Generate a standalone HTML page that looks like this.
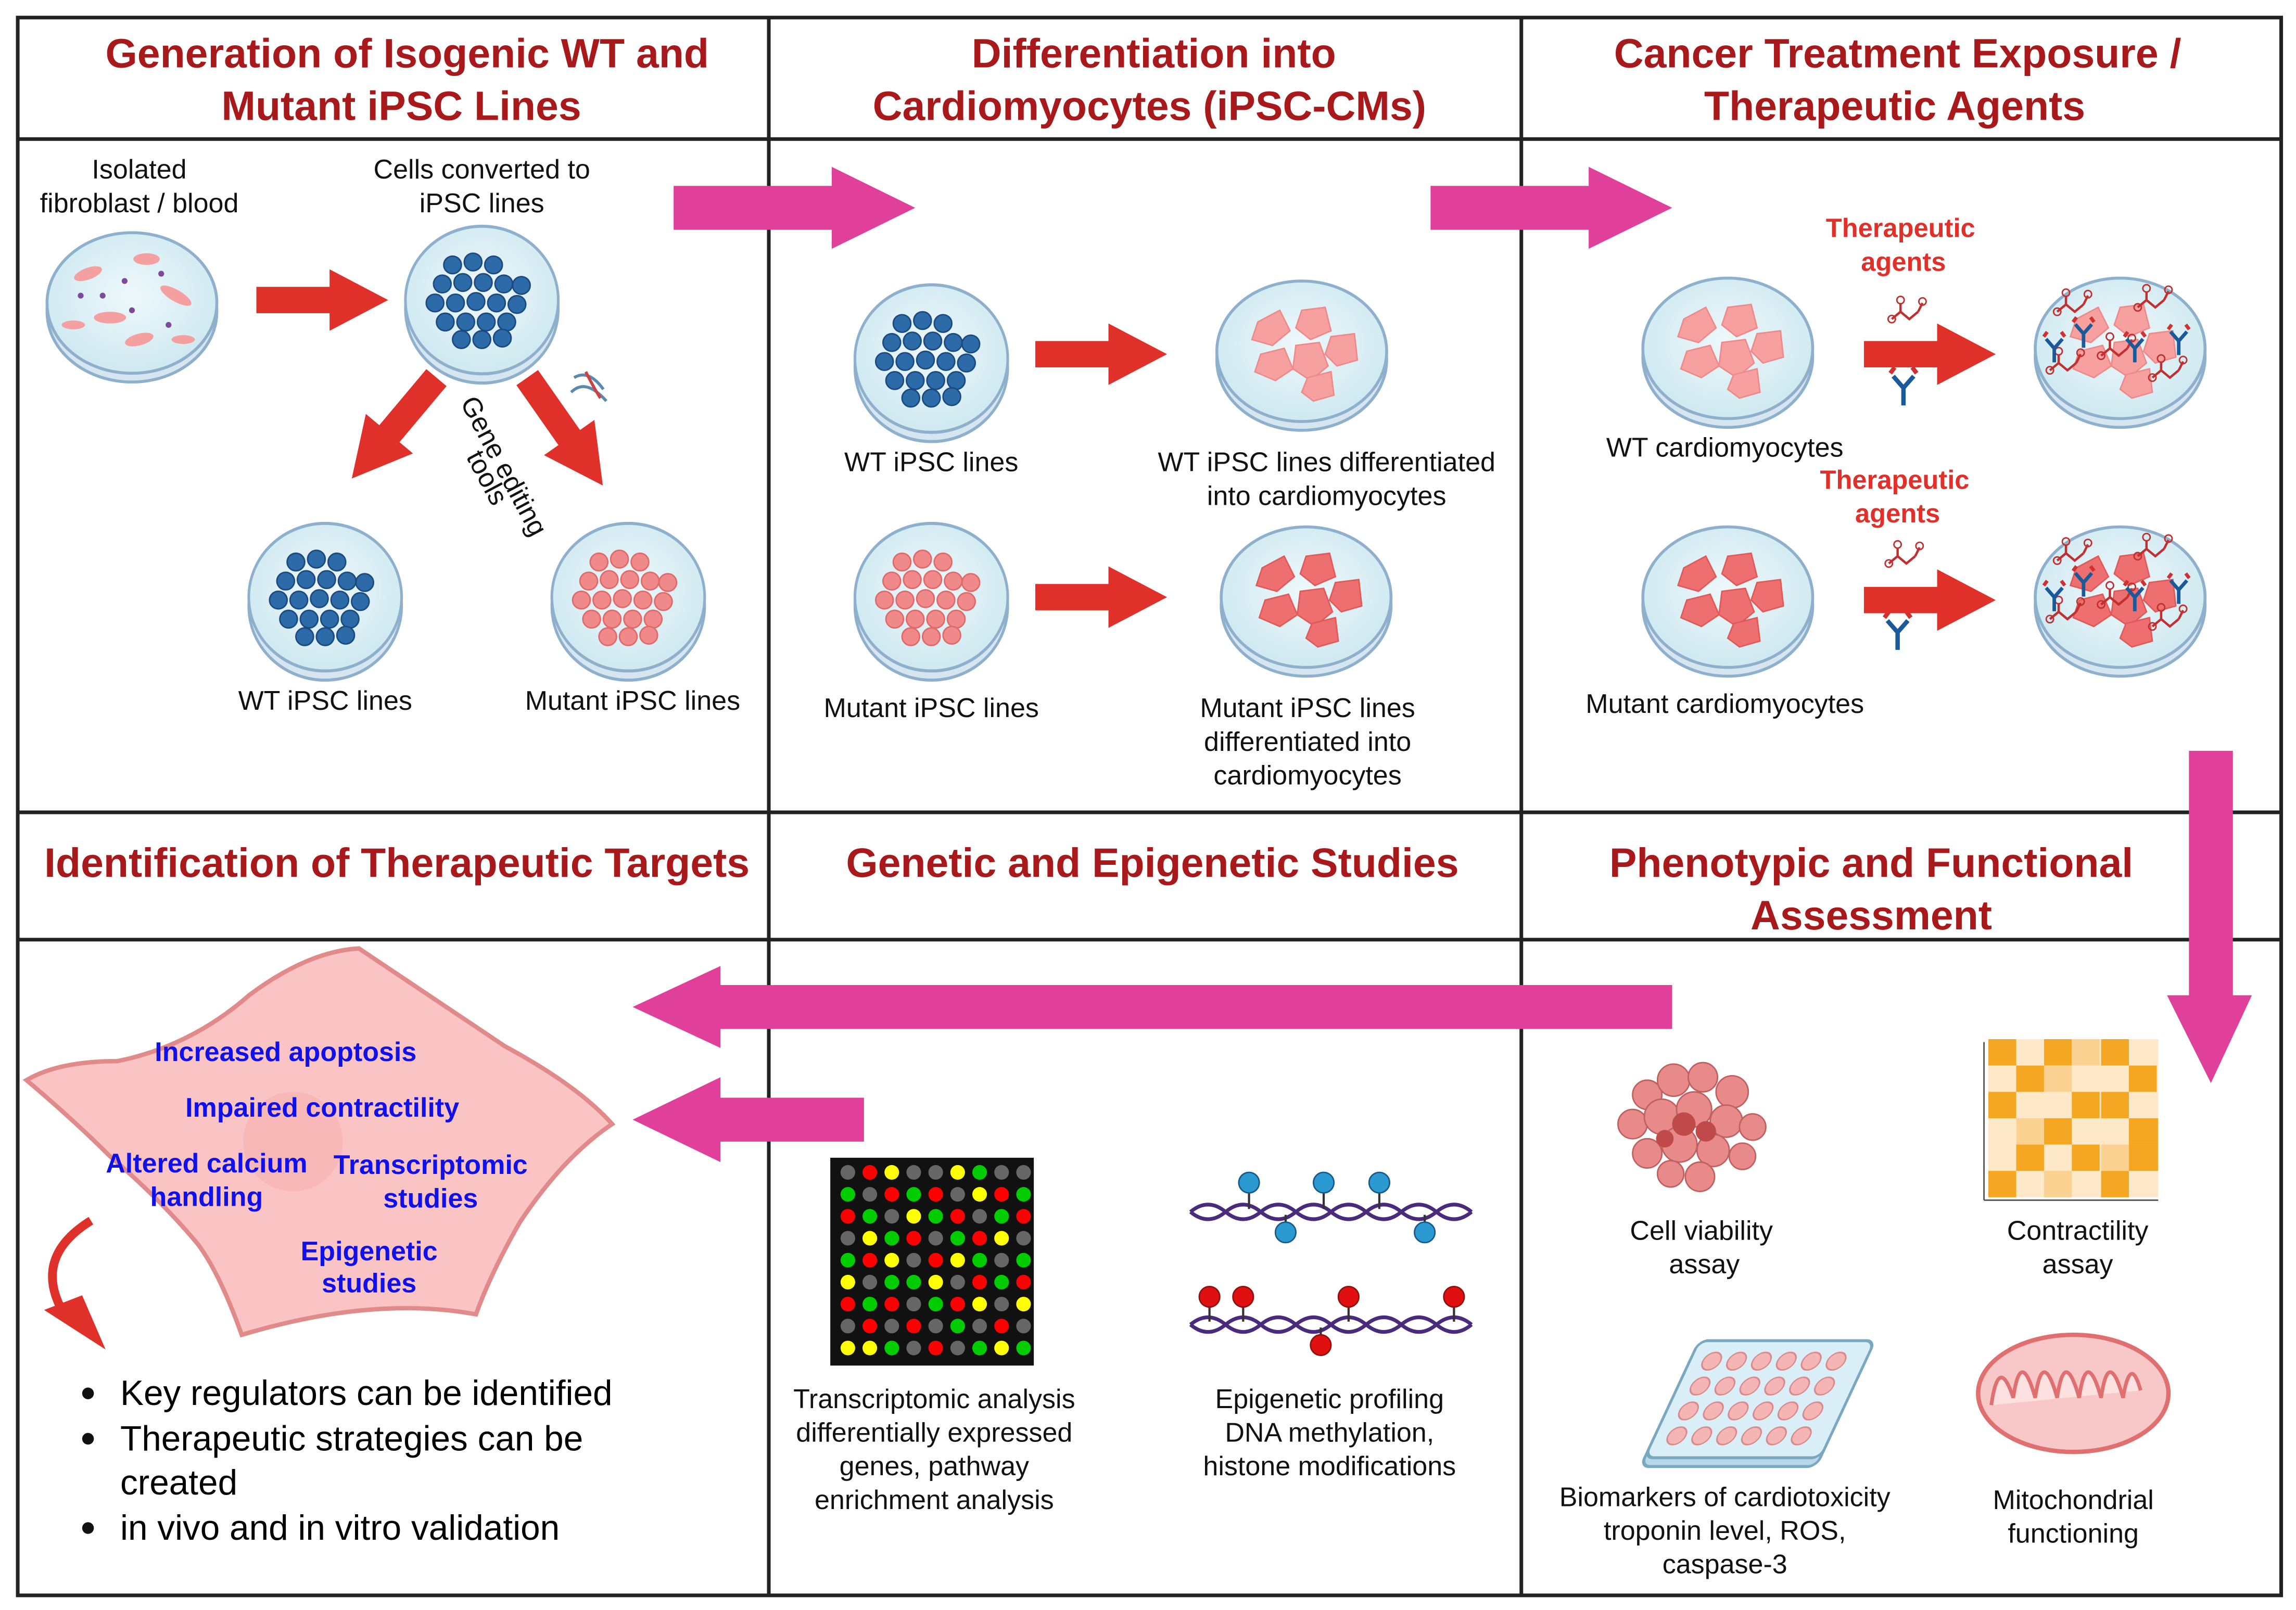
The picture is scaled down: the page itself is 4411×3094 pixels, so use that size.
<!DOCTYPE html>
<html><head><meta charset="utf-8"><style>
html,body{margin:0;padding:0;background:#fff}
svg{display:block}
text{font-family:"Liberation Sans",sans-serif}
.h{font-weight:bold;fill:#a8191c;font-size:28px;text-anchor:middle}
.t{font-size:18.5px;fill:#111;text-anchor:middle}
.b{font-weight:bold;fill:#1010e8;font-size:18.5px;text-anchor:middle}
.r{font-weight:bold;fill:#e0302a;font-size:18px;text-anchor:middle}
</style></head><body>
<svg width="4411" height="3094" viewBox="0 0 1568 1100" xmlns="http://www.w3.org/2000/svg">
<defs>
<radialGradient id="dish" cx="50%" cy="45%" r="55%"><stop offset="0" stop-color="#eef8fb"/><stop offset="1" stop-color="#cfe9f1"/></radialGradient>
<g id="pd"><ellipse cx="0" cy="6" rx="58" ry="48" fill="#d6e6f0" stroke="#8fb0cc" stroke-width="2"/><ellipse cx="0" cy="0" rx="58" ry="48" fill="url(#dish)" stroke="#8fb0cc" stroke-width="2"/></g>
<g id="bc"><g fill="#2d6aa8" stroke="#1b4a80" stroke-width="1">
<circle cx="-20" cy="-24" r="6"/><circle cx="-6" cy="-26" r="6"/><circle cx="8" cy="-24" r="6"/>
<circle cx="-27" cy="-11" r="6"/><circle cx="-13" cy="-12" r="6"/><circle cx="1" cy="-12" r="6"/><circle cx="15" cy="-11" r="6"/><circle cx="27" cy="-10" r="6"/>
<circle cx="-32" cy="2" r="6"/><circle cx="-18" cy="2" r="6"/><circle cx="-4" cy="1" r="6"/><circle cx="10" cy="2" r="6"/><circle cx="24" cy="3" r="6"/>
<circle cx="-25" cy="15" r="6"/><circle cx="-11" cy="15" r="6"/><circle cx="3" cy="15" r="6"/><circle cx="17" cy="15" r="6"/>
<circle cx="-14" cy="27" r="6"/><circle cx="0" cy="27" r="6"/><circle cx="14" cy="26" r="6"/></g></g>
<g id="rc"><g fill="#f08a8a" stroke="#e06a6a" stroke-width="1">
<circle cx="-20" cy="-24" r="6"/><circle cx="-6" cy="-26" r="6"/><circle cx="8" cy="-24" r="6"/>
<circle cx="-27" cy="-11" r="6"/><circle cx="-13" cy="-12" r="6"/><circle cx="1" cy="-12" r="6"/><circle cx="15" cy="-11" r="6"/><circle cx="27" cy="-10" r="6"/>
<circle cx="-32" cy="2" r="6"/><circle cx="-18" cy="2" r="6"/><circle cx="-4" cy="1" r="6"/><circle cx="10" cy="2" r="6"/><circle cx="24" cy="3" r="6"/>
<circle cx="-25" cy="15" r="6"/><circle cx="-11" cy="15" r="6"/><circle cx="3" cy="15" r="6"/><circle cx="17" cy="15" r="6"/>
<circle cx="-14" cy="27" r="6"/><circle cx="0" cy="27" r="6"/><circle cx="14" cy="26" r="6"/></g></g>
<g id="cm"><g fill="#f7a0a0" stroke="#ef8a8a" stroke-width="1">
<polygon points="-30,-20 -15,-28 -8,-14 -20,-4 -34,-8"/><polygon points="0,-28 16,-30 20,-14 6,-8 -4,-16"/>
<polygon points="20,-10 36,-12 38,6 24,10 16,2"/><polygon points="-28,2 -12,-2 -6,12 -18,20 -32,14"/>
<polygon points="-4,-4 12,-6 18,10 6,20 -6,12"/><polygon points="4,18 20,14 22,30 8,34 0,28"/></g></g>
<g id="cmd"><g fill="#ee6f6f" stroke="#e05a5a" stroke-width="1">
<polygon points="-30,-20 -15,-28 -8,-14 -20,-4 -34,-8"/><polygon points="0,-28 16,-30 20,-14 6,-8 -4,-16"/>
<polygon points="20,-10 36,-12 38,6 24,10 16,2"/><polygon points="-28,2 -12,-2 -6,12 -18,20 -32,14"/>
<polygon points="-4,-4 12,-6 18,10 6,20 -6,12"/><polygon points="4,18 20,14 22,30 8,34 0,28"/></g></g>
<g id="ab"><path d="M0,0 L0,12 M0,0 L-7,-8 M0,0 L7,-8" stroke="#1a5a9a" stroke-width="3" fill="none"/><path d="M-9,-10 l3,-4 M9,-10 l-3,-4" stroke="#d03030" stroke-width="3"/></g>
<g id="mol"><path d="M-8,0 l6,-5 l6,5 l6,-5 M-2,-5 l0,-6 M10,-5 l3,-6" stroke="#c03030" stroke-width="1.6" fill="none"/><circle cx="-8" cy="0" r="2.5" fill="none" stroke="#c03030"/><circle cx="13" cy="-12" r="2.5" fill="none" stroke="#c03030"/><circle cx="-2" cy="-13" r="2.5" fill="none" stroke="#c03030"/></g>
<g id="red"><polygon points="0,-9 50,-9 50,-21 90,0 50,21 50,9 0,9" fill="#e0302a"/></g>
</defs>

<rect x="12" y="12" width="1546" height="1078" fill="#fff" stroke="#222" stroke-width="2.5"/>
<line x1="525" y1="12" x2="525" y2="1090" stroke="#222" stroke-width="2.5"/>
<line x1="1039" y1="12" x2="1039" y2="1090" stroke="#222" stroke-width="2.5"/>
<line x1="12" y1="95" x2="1558" y2="95" stroke="#222" stroke-width="2.5"/>
<line x1="12" y1="555" x2="1558" y2="555" stroke="#222" stroke-width="2.5"/>
<line x1="12" y1="642" x2="1558" y2="642" stroke="#222" stroke-width="2.5"/>

<text class="h" x="278" y="46">Generation of Isogenic WT and</text>
<text class="h" x="274" y="82">Mutant iPSC Lines</text>
<text class="h" x="788" y="46">Differentiation into</text>
<text class="h" x="785" y="82">Cardiomyocytes (iPSC-CMs)</text>
<text class="h" x="1296" y="46">Cancer Treatment Exposure /</text>
<text class="h" x="1294" y="82">Therapeutic Agents</text>
<text class="h" x="271" y="599">Identification of Therapeutic Targets</text>
<text class="h" x="787" y="599">Genetic and Epigenetic Studies</text>
<text class="h" x="1278" y="599">Phenotypic and Functional</text>
<text class="h" x="1278" y="635">Assessment</text>

<g fill="#e0409a">
<polygon points="460,127 568,127 568,114 625,142 568,170 568,157 460,157"/>
<polygon points="977,127 1085,127 1085,114 1142,142 1085,170 1085,157 977,157"/>
<polygon points="1495,513 1525,513 1525,680 1538,680 1510,740 1480,680 1495,680"/>
<polygon points="1142,673 492,673 492,660 432,688 492,716 492,703 1142,703"/>
<polygon points="590,750 492,750 492,736 432,765 492,794 492,780 590,780"/>
</g>

<text class="t" x="95" y="122">Isolated</text>
<text class="t" x="95" y="145">fibroblast / blood</text>
<text class="t" x="329" y="122">Cells converted to</text>
<text class="t" x="329" y="145">iPSC lines</text>
<g transform="translate(90,207)"><use href="#pd"/>
<g fill="#f5a0a0"><ellipse cx="-30" cy="-20" rx="10" ry="4" transform="rotate(-20 -30 -20)"/><ellipse cx="10" cy="-30" rx="9" ry="4"/><ellipse cx="30" cy="-5" rx="12" ry="4" transform="rotate(30 30 -5)"/><ellipse cx="-15" cy="10" rx="11" ry="4"/><ellipse cx="5" cy="25" rx="10" ry="4" transform="rotate(-15 5 25)"/><ellipse cx="-40" cy="15" rx="8" ry="3"/><ellipse cx="35" cy="25" rx="8" ry="3"/></g>
<g fill="#7b4a9a"><circle cx="-20" cy="-5" r="2"/><circle cx="20" cy="-20" r="2"/><circle cx="0" cy="5" r="2"/><circle cx="-35" cy="-5" r="2"/><circle cx="25" cy="15" r="2"/><circle cx="-5" cy="-15" r="2"/></g></g>
<use href="#red" transform="translate(175,205)"/>
<g transform="translate(329,205)"><use href="#pd" transform="scale(0.9,1.05)"/><use href="#bc"/></g>
<use href="#red" transform="translate(298,258) rotate(130)"/>
<use href="#red" transform="translate(360,258) rotate(55)"/>
<g transform="translate(400,268)"><path d="M-8,-10 q10,-6 20,8 M-10,0 q10,-10 24,6" stroke="#5a8ab0" stroke-width="2" fill="none"/><path d="M0,-14 q6,12 10,18" stroke="#d04040" stroke-width="2" fill="none"/></g>
<text class="t" transform="translate(314,275) rotate(62)" style="text-anchor:start">Gene editing</text>
<text class="t" transform="translate(318,312) rotate(62)" style="text-anchor:start">tools</text>
<g transform="translate(222,408)"><use href="#pd" transform="scale(0.9,1.05)"/><use href="#bc"/></g>
<g transform="translate(429,408)"><use href="#pd" transform="scale(0.9,1.05)"/><use href="#rc"/></g>
<text class="t" x="222" y="485">WT iPSC lines</text>
<text class="t" x="432" y="485">Mutant iPSC lines</text>

<g transform="translate(636,245)"><use href="#pd" transform="scale(0.9,1.05)"/><use href="#bc"/></g>
<use href="#red" transform="translate(707,242)"/>
<g transform="translate(889,240)"><use href="#pd"/><use href="#cm"/></g>
<text class="t" x="636" y="322">WT iPSC lines</text>
<text class="t" x="906" y="322">WT iPSC lines differentiated</text>
<text class="t" x="906" y="345">into cardiomyocytes</text>
<g transform="translate(636,408)"><use href="#pd" transform="scale(0.9,1.05)"/><use href="#rc"/></g>
<use href="#red" transform="translate(707,408)"/>
<g transform="translate(892,408)"><use href="#pd"/><use href="#cmd"/></g>
<text class="t" x="636" y="490">Mutant iPSC lines</text>
<text class="t" x="893" y="490">Mutant iPSC lines</text>
<text class="t" x="893" y="513">differentiated into</text>
<text class="t" x="893" y="536">cardiomyocytes</text>

<text class="r" x="1298" y="162">Therapeutic</text>
<text class="r" x="1300" y="185">agents</text>
<g transform="translate(1180,238)"><use href="#pd"/><use href="#cm"/></g>
<use href="#mol" transform="translate(1300,218)"/><use href="#ab" transform="translate(1300,265)"/>
<use href="#red" transform="translate(1273,242)"/>
<g transform="translate(1448,238)"><use href="#pd"/><use href="#cm"/>
<use href="#mol" transform="translate(-35,-25)"/><use href="#mol" transform="translate(20,-28)"/><use href="#mol" transform="translate(-40,15)"/><use href="#mol" transform="translate(30,20)"/><use href="#mol" transform="translate(-5,5)"/>
<use href="#ab" transform="translate(-25,-10) scale(0.8)"/><use href="#ab" transform="translate(10,0) scale(0.8)"/><use href="#ab" transform="translate(40,-5) scale(0.8)"/><use href="#ab" transform="translate(-45,0) scale(0.8)"/></g>
<text class="t" x="1178" y="312">WT cardiomyocytes</text>
<text class="r" x="1294" y="334">Therapeutic</text>
<text class="r" x="1296" y="357">agents</text>
<g transform="translate(1180,408)"><use href="#pd"/><use href="#cmd"/></g>
<use href="#mol" transform="translate(1298,385)"/><use href="#ab" transform="translate(1296,432)"/>
<use href="#red" transform="translate(1273,410)"/>
<g transform="translate(1448,408)"><use href="#pd"/><use href="#cmd"/>
<use href="#mol" transform="translate(-35,-25)"/><use href="#mol" transform="translate(20,-28)"/><use href="#mol" transform="translate(-40,15)"/><use href="#mol" transform="translate(30,20)"/><use href="#mol" transform="translate(-5,5)"/>
<use href="#ab" transform="translate(-25,-10) scale(0.8)"/><use href="#ab" transform="translate(10,0) scale(0.8)"/><use href="#ab" transform="translate(40,-5) scale(0.8)"/><use href="#ab" transform="translate(-45,0) scale(0.8)"/></g>
<text class="t" x="1178" y="487">Mutant cardiomyocytes</text>

<path d="M245,648 Q300,685 345,715 Q395,742 418,768 Q385,790 355,835 Q335,870 325,898 Q255,885 165,912 Q150,870 135,850 Q110,820 75,790 Q50,765 18,738 Q40,725 80,725 Q130,715 170,680 Q210,650 245,648 Z" fill="#fbc4c4" stroke="#e08a8a" stroke-width="3"/>
<circle cx="200" cy="780" r="34" fill="#f6b0b0" opacity="0.6"/>
<text class="b" x="195" y="725">Increased apoptosis</text>
<text class="b" x="220" y="763">Impaired contractility</text>
<text class="b" x="141" y="801">Altered calcium</text>
<text class="b" x="141" y="824">handling</text>
<text class="b" x="294" y="802">Transcriptomic</text>
<text class="b" x="294" y="825">studies</text>
<text class="b" x="252" y="861">Epigenetic</text>
<text class="b" x="252" y="883">studies</text>
<path d="M62,834 Q20,860 45,900" stroke="#e0302a" stroke-width="6" fill="none"/>
<polygon points="30,895 56,885 72,922" fill="#e0302a"/>
<circle cx="60" cy="952" r="4" fill="#111"/><text x="82" y="960" style="font-size:24px">Key regulators can be identified</text>
<circle cx="60" cy="983" r="4" fill="#111"/><text x="82" y="991" style="font-size:24px">Therapeutic strategies can be</text>
<text x="82" y="1021" style="font-size:24px">created</text>
<circle cx="60" cy="1044" r="4" fill="#111"/><text x="82" y="1052" style="font-size:24px">in vivo and in vitro validation</text>

<rect x="567" y="791" width="139" height="142" fill="#111"/>
<g>
<circle cx="579" cy="801" r="5" fill="#666"/><circle cx="594" cy="801" r="5" fill="#f00"/><circle cx="609" cy="801" r="5" fill="#ff0"/><circle cx="624" cy="801" r="5" fill="#666"/><circle cx="639" cy="801" r="5" fill="#666"/><circle cx="654" cy="801" r="5" fill="#ff0"/><circle cx="669" cy="801" r="5" fill="#0c0"/><circle cx="684" cy="801" r="5" fill="#666"/><circle cx="699" cy="801" r="5" fill="#666"/>
<circle cx="579" cy="816" r="5" fill="#0c0"/><circle cx="594" cy="816" r="5" fill="#666"/><circle cx="609" cy="816" r="5" fill="#f00"/><circle cx="624" cy="816" r="5" fill="#0c0"/><circle cx="639" cy="816" r="5" fill="#f00"/><circle cx="654" cy="816" r="5" fill="#666"/><circle cx="669" cy="816" r="5" fill="#ff0"/><circle cx="684" cy="816" r="5" fill="#f00"/><circle cx="699" cy="816" r="5" fill="#0c0"/>
<circle cx="579" cy="831" r="5" fill="#f00"/><circle cx="594" cy="831" r="5" fill="#0c0"/><circle cx="609" cy="831" r="5" fill="#666"/><circle cx="624" cy="831" r="5" fill="#ff0"/><circle cx="639" cy="831" r="5" fill="#0c0"/><circle cx="654" cy="831" r="5" fill="#f00"/><circle cx="669" cy="831" r="5" fill="#666"/><circle cx="684" cy="831" r="5" fill="#0c0"/><circle cx="699" cy="831" r="5" fill="#f00"/>
<circle cx="579" cy="846" r="5" fill="#666"/><circle cx="594" cy="846" r="5" fill="#ff0"/><circle cx="609" cy="846" r="5" fill="#0c0"/><circle cx="624" cy="846" r="5" fill="#f00"/><circle cx="639" cy="846" r="5" fill="#666"/><circle cx="654" cy="846" r="5" fill="#0c0"/><circle cx="669" cy="846" r="5" fill="#f00"/><circle cx="684" cy="846" r="5" fill="#ff0"/><circle cx="699" cy="846" r="5" fill="#666"/>
<circle cx="579" cy="861" r="5" fill="#0c0"/><circle cx="594" cy="861" r="5" fill="#f00"/><circle cx="609" cy="861" r="5" fill="#ff0"/><circle cx="624" cy="861" r="5" fill="#666"/><circle cx="639" cy="861" r="5" fill="#f00"/><circle cx="654" cy="861" r="5" fill="#ff0"/><circle cx="669" cy="861" r="5" fill="#0c0"/><circle cx="684" cy="861" r="5" fill="#666"/><circle cx="699" cy="861" r="5" fill="#0c0"/>
<circle cx="579" cy="876" r="5" fill="#ff0"/><circle cx="594" cy="876" r="5" fill="#666"/><circle cx="609" cy="876" r="5" fill="#0c0"/><circle cx="624" cy="876" r="5" fill="#0c0"/><circle cx="639" cy="876" r="5" fill="#ff0"/><circle cx="654" cy="876" r="5" fill="#666"/><circle cx="669" cy="876" r="5" fill="#f00"/><circle cx="684" cy="876" r="5" fill="#0c0"/><circle cx="699" cy="876" r="5" fill="#f00"/>
<circle cx="579" cy="891" r="5" fill="#f00"/><circle cx="594" cy="891" r="5" fill="#0c0"/><circle cx="609" cy="891" r="5" fill="#f00"/><circle cx="624" cy="891" r="5" fill="#666"/><circle cx="639" cy="891" r="5" fill="#0c0"/><circle cx="654" cy="891" r="5" fill="#f00"/><circle cx="669" cy="891" r="5" fill="#ff0"/><circle cx="684" cy="891" r="5" fill="#666"/><circle cx="699" cy="891" r="5" fill="#ff0"/>
<circle cx="579" cy="906" r="5" fill="#666"/><circle cx="594" cy="906" r="5" fill="#f00"/><circle cx="609" cy="906" r="5" fill="#666"/><circle cx="624" cy="906" r="5" fill="#f00"/><circle cx="639" cy="906" r="5" fill="#666"/><circle cx="654" cy="906" r="5" fill="#0c0"/><circle cx="669" cy="906" r="5" fill="#666"/><circle cx="684" cy="906" r="5" fill="#f00"/><circle cx="699" cy="906" r="5" fill="#666"/>
<circle cx="579" cy="921" r="5" fill="#ff0"/><circle cx="594" cy="921" r="5" fill="#ff0"/><circle cx="609" cy="921" r="5" fill="#0c0"/><circle cx="624" cy="921" r="5" fill="#666"/><circle cx="639" cy="921" r="5" fill="#f00"/><circle cx="654" cy="921" r="5" fill="#666"/><circle cx="669" cy="921" r="5" fill="#0c0"/><circle cx="684" cy="921" r="5" fill="#ff0"/><circle cx="699" cy="921" r="5" fill="#0c0"/>
</g>
<text class="t" x="638" y="962">Transcriptomic analysis</text>
<text class="t" x="638" y="985">differentially expressed</text>
<text class="t" x="638" y="1008">genes, pathway</text>
<text class="t" x="638" y="1031">enrichment analysis</text>
<g stroke="#4a2a7a" stroke-width="2.5" fill="none">
<path d="M813,828 q12,-10 24,0 t24,0 t24,0 t24,0 t24,0 t24,0 t24,0 t24,0"/>
<path d="M813,828 q12,10 24,0 t24,0 t24,0 t24,0 t24,0 t24,0 t24,0 t24,0"/>
<path d="M813,905 q12,-10 24,0 t24,0 t24,0 t24,0 t24,0 t24,0 t24,0 t24,0"/>
<path d="M813,905 q12,10 24,0 t24,0 t24,0 t24,0 t24,0 t24,0 t24,0 t24,0"/>
</g>
<g stroke="#333" stroke-width="1.5"><line x1="853" y1="808" x2="853" y2="826"/><line x1="904" y1="808" x2="904" y2="826"/><line x1="942" y1="808" x2="942" y2="826"/><line x1="878" y1="830" x2="878" y2="842"/><line x1="973" y1="830" x2="973" y2="842"/>
<line x1="826" y1="886" x2="826" y2="903"/><line x1="849" y1="886" x2="849" y2="903"/><line x1="921" y1="886" x2="921" y2="903"/><line x1="993" y1="886" x2="993" y2="903"/><line x1="902" y1="907" x2="902" y2="918"/></g>
<g fill="#2a9ad0" stroke="#1a5a8a"><circle cx="853" cy="808" r="7"/><circle cx="904" cy="808" r="7"/><circle cx="942" cy="808" r="7"/><circle cx="878" cy="842" r="7"/><circle cx="973" cy="842" r="7"/></g>
<g fill="#e01010" stroke="#901010"><circle cx="826" cy="886" r="7"/><circle cx="849" cy="886" r="7"/><circle cx="921" cy="886" r="7"/><circle cx="993" cy="886" r="7"/><circle cx="902" cy="919" r="7"/></g>
<text class="t" x="908" y="962">Epigenetic profiling</text>
<text class="t" x="908" y="985">DNA methylation,</text>
<text class="t" x="908" y="1008">histone modifications</text>

<g transform="translate(1155,768)">
<g fill="#e88a8a" stroke="#c06060" stroke-width="1"><circle cx="-30" cy="-20" r="10"/><circle cx="-12" cy="-30" r="11"/><circle cx="8" cy="-32" r="10"/><circle cx="28" cy="-22" r="11"/><circle cx="-40" cy="0" r="10"/><circle cx="-20" cy="-5" r="12"/><circle cx="2" cy="-10" r="12"/><circle cx="24" cy="-2" r="11"/><circle cx="42" cy="2" r="9"/><circle cx="-30" cy="20" r="10"/><circle cx="-8" cy="14" r="12"/><circle cx="15" cy="18" r="11"/><circle cx="35" cy="22" r="9"/><circle cx="-14" cy="34" r="9"/><circle cx="6" cy="36" r="10"/></g>
<g fill="#c04a4a"><circle cx="-5" cy="0" r="8"/><circle cx="10" cy="5" r="7"/><circle cx="-18" cy="10" r="6"/></g></g>
<text class="t" x="1162" y="847">Cell viability</text>
<text class="t" x="1164" y="870">assay</text>
<g>
<line x1="1355" y1="712" x2="1355" y2="820" stroke="#555"/><line x1="1355" y1="820" x2="1474" y2="820" stroke="#555"/>
<rect x="1358" y="710" width="116" height="108" fill="#fde9c8"/>
<g fill="#f5a623">
<rect x="1358" y="710" width="19" height="18"/><rect x="1396" y="710" width="19" height="18"/><rect x="1435" y="710" width="19" height="18"/>
<rect x="1377" y="728" width="19" height="18"/><rect x="1454" y="728" width="19" height="18"/>
<rect x="1358" y="746" width="19" height="18"/><rect x="1415" y="746" width="19" height="18"/><rect x="1435" y="746" width="19" height="18"/>
<rect x="1396" y="764" width="19" height="18"/><rect x="1454" y="764" width="20" height="18"/>
<rect x="1377" y="782" width="19" height="18"/><rect x="1415" y="782" width="19" height="18"/><rect x="1454" y="782" width="20" height="18"/>
<rect x="1358" y="800" width="19" height="18"/><rect x="1435" y="800" width="19" height="18"/></g>
<g fill="#fbd291"><rect x="1415" y="710" width="19" height="18"/><rect x="1396" y="728" width="19" height="18"/><rect x="1377" y="764" width="19" height="18"/><rect x="1435" y="782" width="19" height="18"/><rect x="1396" y="800" width="19" height="18"/></g>
</g>
<text class="t" x="1419" y="847">Contractility</text>
<text class="t" x="1419" y="870">assay</text>
<g transform="translate(1180,960) skewX(-25)">
<rect x="-40" y="-38" width="120" height="80" rx="6" fill="#b7d8e8" stroke="#7aa8c0" stroke-width="2"/>
<rect x="-40" y="-44" width="120" height="80" rx="6" fill="#d9eef7" stroke="#7aa8c0" stroke-width="2"/>
<g fill="#f5b5b5" stroke="#d98a8a">
<circle cx="-25" cy="-30" r="6"/><circle cx="-8" cy="-30" r="6"/><circle cx="9" cy="-30" r="6"/><circle cx="26" cy="-30" r="6"/><circle cx="43" cy="-30" r="6"/><circle cx="60" cy="-30" r="6"/>
<circle cx="-25" cy="-13" r="6"/><circle cx="-8" cy="-13" r="6"/><circle cx="9" cy="-13" r="6"/><circle cx="26" cy="-13" r="6"/><circle cx="43" cy="-13" r="6"/><circle cx="60" cy="-13" r="6"/>
<circle cx="-25" cy="4" r="6"/><circle cx="-8" cy="4" r="6"/><circle cx="9" cy="4" r="6"/><circle cx="26" cy="4" r="6"/><circle cx="43" cy="4" r="6"/><circle cx="60" cy="4" r="6"/>
<circle cx="-25" cy="21" r="6"/><circle cx="-8" cy="21" r="6"/><circle cx="9" cy="21" r="6"/><circle cx="26" cy="21" r="6"/><circle cx="43" cy="21" r="6"/><circle cx="60" cy="21" r="6"/></g></g>
<text class="t" x="1178" y="1029">Biomarkers of cardiotoxicity</text>
<text class="t" x="1178" y="1052">troponin level, ROS,</text>
<text class="t" x="1178" y="1075">caspase-3</text>
<ellipse cx="1416" cy="952" rx="65" ry="40" fill="#f8c8c8" stroke="#e07070" stroke-width="3"/>
<path d="M1360,960 q5,-35 15,-5 q5,-35 15,0 q5,-35 15,0 q5,-35 15,0 q5,-35 15,0 q5,-35 15,0 q5,-30 12,-5" stroke="#e07070" stroke-width="2.5" fill="#fde0e0"/>
<text class="t" x="1416" y="1031">Mitochondrial</text>
<text class="t" x="1416" y="1054">functioning</text>
</svg>
</body></html>
